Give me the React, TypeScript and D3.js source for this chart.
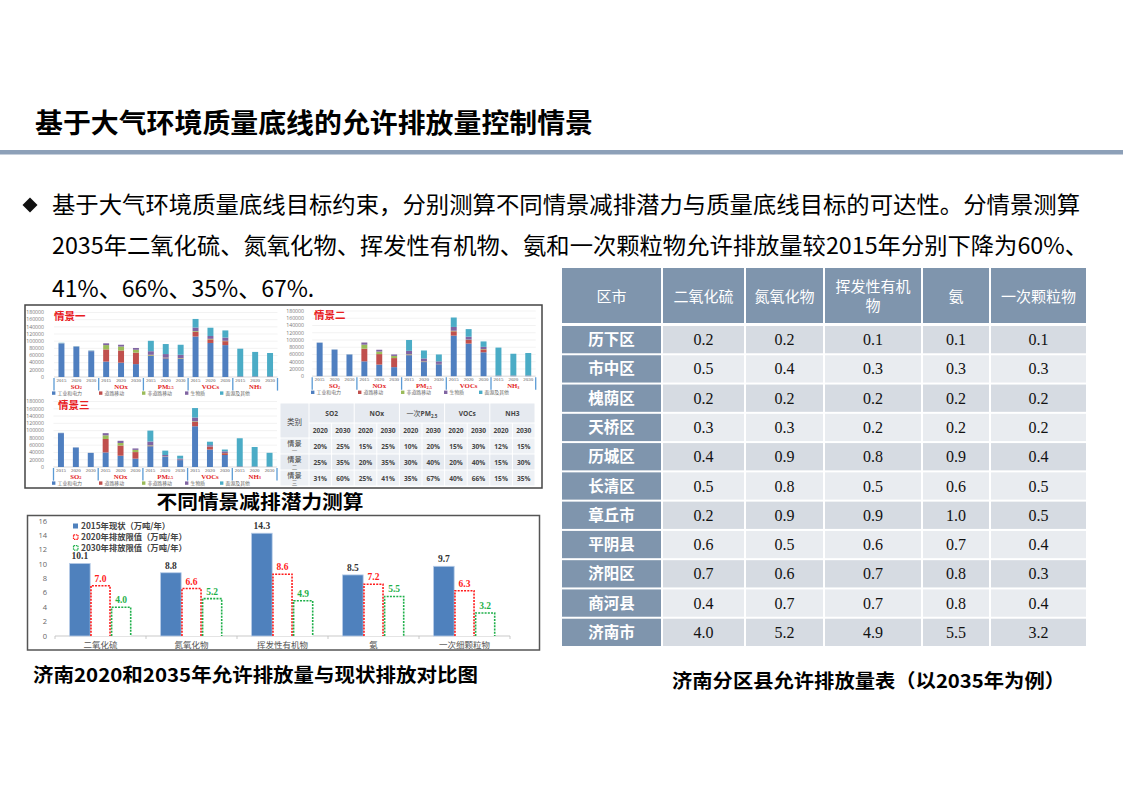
import React from "react"
import * as d3 from "d3"

const W = 1123
const H = 794
const CJK = '"Noto Sans CJK SC", "Noto Sans", sans-serif'
const SERIF = '"Liberation Serif", "Times New Roman", serif'
const SANS = '"Open Sans", "Noto Sans", sans-serif'

// ---------- small stacked charts (three scenarios) ----------
const pollutants = ["SO2", "NOx", "PM2.5", "VOCs", "NH3"]
const pollutantLabels: [string, string][] = [
  ["SO", "2"],
  ["NOx", ""],
  ["PM", "2.5"],
  ["VOCs", ""],
  ["NH", "3"],
]
const years = ["2015", "2020", "2030"]
const sourceKeys = ["industry", "road", "nonroad", "biomass", "dust"]
const sourceNames = ["工业和电力", "道路移动", "非道路移动", "生物质", "面源及其他"]
const sourceColors = ["#4f7fc0", "#c0504d", "#9bbb59", "#8064a2", "#4bacc6"]
const smallTicks = d3.range(0, 180001, 20000)

// bars ordered SO2 2015/2020/2030, NOx ..., PM2.5 ..., VOCs ..., NH3 ...
const s1Industry = [93000, 84000, 72000, 43000, 40000, 36000, 59000, 52000, 51000, 113000, 95000, 89000, 1500, 1500, 1500]
const s1Road = [0, 0, 0, 34000, 34000, 32000, 1000, 1000, 1000, 13000, 10000, 11000, 500, 500, 500]
const s1Nonroad = [0, 0, 0, 12000, 11000, 8000, 2000, 1000, 1000, 2000, 1500, 1000, 0, 0, 0]
const s1Biomass = [1000, 1000, 1000, 5000, 5000, 5000, 10000, 10000, 9000, 10000, 8000, 9000, 0, 0, 0]
const s1Dust = [1500, 1000, 1000, 0, 0, 0, 29000, 28000, 28000, 24000, 23000, 20000, 77000, 68000, 65000]

const s2Industry = [92000, 73000, 59500, 41000, 32000, 25000, 58000, 39000, 33000, 112000, 90000, 66000, 1500, 1500, 1500]
const s2Road = [0, 0, 0, 35000, 29000, 25000, 1000, 1000, 500, 12000, 10000, 8000, 500, 500, 500]
const s2Nonroad = [0, 0, 0, 11000, 7000, 6000, 1500, 1000, 500, 1500, 1000, 1000, 0, 0, 0]
const s2Biomass = [500, 500, 500, 6000, 5000, 4000, 9500, 8000, 7000, 10500, 8000, 6000, 0, 0, 0]
const s2Dust = [500, 500, 600, 0, 0, 0, 30000, 22000, 19000, 26000, 21000, 15000, 77000, 60000, 62000]

const s3Industry = [93000, 53500, 38500, 40000, 31000, 23000, 57000, 28500, 19000, 112000, 48000, 33000, 1500, 1000, 1000]
const s3Road = [0, 0, 0, 37000, 28000, 18000, 1000, 500, 500, 12000, 7000, 5000, 500, 500, 300]
const s3Nonroad = [0, 0, 0, 10000, 7000, 6000, 1500, 500, 500, 1500, 1000, 500, 0, 0, 0]
const s3Biomass = [500, 300, 300, 6000, 6000, 4000, 10500, 3500, 3000, 10500, 4000, 4500, 0, 0, 0]
const s3Dust = [500, 200, 200, 0, 0, 0, 30000, 12000, 8000, 26000, 9500, 5000, 77000, 53500, 37700]

// ---------- reduction ratio mini table ----------
const miniHeads: [string, string, string][] = [
  ["", "SO2", ""],
  ["", "NOx", ""],
  ["一次", "PM", "2.5"],
  ["", "VOCs", ""],
  ["", "NH3", ""],
]
const miniYears = ["2020", "2030"]
const miniRowNames = ["情景一", "情景二", "情景三"]
const miniS1 = [20, 25, 15, 25, 10, 20, 15, 30, 12, 15]
const miniS2 = [25, 35, 20, 35, 30, 40, 20, 40, 15, 30]
const miniS3 = [31, 60, 25, 41, 35, 67, 40, 66, 15, 35]

// ---------- comparison bar chart ----------
const barCats = ["二氧化硫", "氮氧化物", "挥发性有机物", "氨", "一次细颗粒物"]
const v2015 = [10.1, 8.8, 14.3, 8.5, 9.7]
const v2020 = [7.0, 6.6, 8.6, 7.2, 6.3]
const v2030 = [4.0, 5.2, 4.9, 5.5, 3.2]
const barSeriesNames = ["2015年现状（万吨/年）", "2020年排放限值（万吨/年）", "2030年排放限值（万吨/年）"]
const barTicks = d3.range(0, 17, 2)

// ---------- district table ----------
const tableHeads = ["区市", "二氧化硫", "氮氧化物", "挥发性有机物", "氨", "一次颗粒物"]
const districts = ["历下区", "市中区", "槐荫区", "天桥区", "历城区", "长清区", "章丘市", "平阴县", "济阳区", "商河县", "济南市"]
const tSO2 = [0.2, 0.5, 0.2, 0.3, 0.4, 0.5, 0.2, 0.6, 0.7, 0.4, 4.0]
const tNOx = [0.2, 0.4, 0.2, 0.3, 0.9, 0.8, 0.9, 0.5, 0.6, 0.7, 5.2]
const tVOC = [0.1, 0.3, 0.2, 0.2, 0.8, 0.5, 0.9, 0.6, 0.7, 0.7, 4.9]
const tNH3 = [0.1, 0.3, 0.2, 0.2, 0.9, 0.6, 1.0, 0.7, 0.8, 0.8, 5.5]
const tPM = [0.1, 0.3, 0.2, 0.2, 0.4, 0.5, 0.5, 0.4, 0.3, 0.4, 3.2]

interface SmallGeom {
  x0: number
  x1: number
  yBase: number
  yTop: number
  tickX: number
  titleX: number
  titleY: number
  legendX: number
}

const SmallChart = ({ g, title, series }: { g: SmallGeom; title: string; series: number[][] }) => {
  const rows = d3.range(15).map((i) => {
    const r: Record<string, number> = {}
    sourceKeys.forEach((k, j) => (r[k] = series[j][i]))
    return r
  })
  const stacked = d3.stack<Record<string, number>>().keys(sourceKeys)(rows)
  const x = d3.scaleBand<number>().domain(d3.range(15)).range([g.x0, g.x1]).paddingInner(0.6).paddingOuter(0.3)
  const y = d3.scaleLinear().domain([0, 180000]).range([g.yBase, g.yTop])
  const groupW = x.step() * 3
  const legendOffsets = [0, 47, 90, 133, 168]
  const yearY = g.yBase + 5
  const groupY = g.yBase + 11.6
  const legendY = g.yBase + 17.8

  return (
    <g>
      {smallTicks.map((t) => (
        <g key={t}>
          <line x1={g.x0} x2={g.x1} y1={y(t)} y2={y(t)} stroke="#e4e4e4" strokeWidth={0.5} />
          <text x={g.tickX} y={y(t) + 1.8} textAnchor="end" fontSize={5.2} fill="#777" fontFamily={SANS}>
            {t}
          </text>
        </g>
      ))}
      <line x1={g.x0} x2={g.x1} y1={g.yBase} y2={g.yBase} stroke="#ccc" strokeWidth={0.6} />
      {stacked.map((layer, li) => (
        <g key={layer.key} fill={sourceColors[li]}>
          {layer.map((d, i) => (
            <rect key={i} x={x(i)} width={x.bandwidth()} y={y(d[1])} height={Math.max(0, y(d[0]) - y(d[1]))} />
          ))}
        </g>
      ))}
      {d3.range(6).map((k) => (
        <line
          key={k}
          x1={g.x0 + k * groupW}
          x2={g.x0 + k * groupW}
          y1={g.yBase + 1}
          y2={groupY + 2}
          stroke="#5b9bd5"
          strokeWidth={1.3}
        />
      ))}
      {d3.range(15).map((i) => (
        <text
          key={i}
          x={(x(i) as number) + x.bandwidth() / 2}
          y={yearY}
          textAnchor="middle"
          fontSize={4.9}
          fill="#555"
          fontFamily={SERIF}
        >
          {years[i % 3]}
        </text>
      ))}
      {pollutants.map((p, k) => (
        <text
          key={p}
          x={g.x0 + k * groupW + groupW / 2}
          y={groupY}
          textAnchor="middle"
          fontSize={6.8}
          fontWeight="bold"
          fill="#e21b1b"
          fontFamily={SERIF}
        >
          {pollutantLabels[k][0]}
          {pollutantLabels[k][1] && (
            <tspan fontSize={4.3} dy={0.8}>
              {pollutantLabels[k][1]}
            </tspan>
          )}
        </text>
      ))}
      {sourceNames.map((s, k) => (
        <g key={s} transform={`translate(${g.legendX + legendOffsets[k]},${legendY})`}>
          <rect x={0} y={-3.4} width={3.4} height={3.4} fill={sourceColors[k]} />
          <text x={5.5} y={0} fontSize={4.9} fill="#666" fontFamily={CJK}>
            {s}
          </text>
        </g>
      ))}
      <text x={g.titleX} y={g.titleY} fontSize={10.5} fontWeight="bold" fill="#e8201f" fontFamily={CJK}>
        {title}
      </text>
    </g>
  )
}

const MiniTable = () => {
  const left = 280
  const labelRight = 309
  const right = 535
  const col = d3.scaleBand<number>().domain(d3.range(10)).range([labelRight, right])
  const rowY = d3.scaleBand<number>().domain([0, 1, 2]).range([438, 486])
  const h1 = [403, 423]
  const h2 = [423, 438]
  const data = [miniS1, miniS2, miniS3]
  const cell = (x: number, y: number, w: number, h: number, fill: string, key: string) => (
    <rect key={key} x={x + 0.5} y={y + 0.5} width={w - 1} height={h - 1} fill={fill} />
  )
  const txt = { fontSize: 6.6, fontWeight: "bold" as const, fill: "#444", fontFamily: SANS, textAnchor: "middle" as const }
  return (
    <g>
      <rect x={left} y={h1[0]} width={right - left} height={486 - h1[0]} fill="#fff" />
      {cell(left, h1[0], labelRight - left, h2[1] - h1[0], "#e6eaf0", "lab")}
      {miniHeads.map((hd, k) => (
        <g key={k}>
          {cell(col(k * 2) as number, h1[0], col.bandwidth() * 2, h1[1] - h1[0], "#e6eaf0", "h" + k)}
          <text {...txt} x={(col(k * 2) as number) + col.bandwidth()} y={h1[0] + 13}>
            {hd[0] && (
              <tspan fontFamily={CJK} fontWeight="normal" fontSize={7}>
                {hd[0]}
              </tspan>
            )}
            {hd[1]}
            {hd[2] && (
              <tspan fontSize={4.5} dy={1.5}>
                {hd[2]}
              </tspan>
            )}
          </text>
        </g>
      ))}
      {d3.range(10).map((c) => (
        <g key={c}>
          {cell(col(c) as number, h2[0], col.bandwidth(), h2[1] - h2[0], "#eef1f5", "y" + c)}
          <text {...txt} x={(col(c) as number) + col.bandwidth() / 2} y={h2[0] + 10}>
            {miniYears[c % 2]}
          </text>
        </g>
      ))}
      <text x={(left + labelRight) / 2} y={h1[0] + 22} textAnchor="middle" fontSize={7.5} fill="#444" fontFamily={CJK}>
        类别
      </text>
      {data.map((vals, r) => (
        <g key={r}>
          {cell(left, rowY(r) as number, labelRight - left, rowY.bandwidth(), r % 2 ? "#e6eaf0" : "#eef1f5", "rl" + r)}
          <text x={(left + labelRight) / 2} y={(rowY(r) as number) + 8} textAnchor="middle" fontSize={7.2} fill="#444" fontFamily={CJK}>
            {miniRowNames[r].slice(0, 2)}
          </text>
          <text x={(left + labelRight) / 2} y={(rowY(r) as number) + 14.5} textAnchor="middle" fontSize={5.5} fill="#777" fontFamily={CJK}>
            {miniRowNames[r].slice(2)}
          </text>
          {vals.map((v, c) => (
            <g key={c}>
              {cell(col(c) as number, rowY(r) as number, col.bandwidth(), rowY.bandwidth(), r % 2 ? "#e6eaf0" : "#eef1f5", "c" + c)}
              <text {...txt} x={(col(c) as number) + col.bandwidth() / 2} y={(rowY(r) as number) + 10.5}>
                {v}%
              </text>
            </g>
          ))}
        </g>
      ))}
    </g>
  )
}

const CompareChart = () => {
  const x0 = d3.scaleBand<string>().domain(barCats).range([55, 510])
  const x1 = d3.scaleBand<number>().domain([0, 1, 2]).range([14.5, x0.bandwidth() - 14.5])
  const y = d3.scaleLinear().domain([0, 16]).range([636, 521])
  const vals = [v2015, v2020, v2030]
  const strokes = ["#4f81bd", "#ff1a1a", "#1fb04a"]
  const labelColors = ["#333", "#ff1a1a", "#1fb04a"]
  const y0 = y(0)
  return (
    <g>
      <rect x={27.5} y={515.5} width={512} height={134.5} fill="#fff" stroke="#555" strokeWidth={1.5} />
      {barTicks.map((t) => (
        <text key={t} x={47} y={y(t) + 2.5} textAnchor="end" fontSize={7.5} fill="#666" fontFamily={SANS}>
          {t}
        </text>
      ))}
      <line x1={55} x2={510} y1={y0} y2={y0} stroke="#bbb" strokeWidth={0.8} />
      {d3.range(6).map((k) => (
        <line key={k} x1={55 + k * x0.step()} x2={55 + k * x0.step()} y1={y0} y2={y0 + 3} stroke="#bbb" strokeWidth={0.8} />
      ))}
      {barCats.map((c, ci) => {
        const gx = x0(c) as number
        return (
          <g key={c}>
            {vals.map((series, si) => {
              const bx = gx + (x1(si) as number)
              const bw = x1.bandwidth()
              const top = y(series[ci])
              return (
                <g key={si}>
                  {si === 0 ? (
                    <rect x={bx} y={top} width={bw} height={y0 - top} fill="#4f81bd" stroke="#b8cde8" strokeWidth={0.8} />
                  ) : (
                    <path
                      d={`M${bx + 0.8},${y0}V${top}H${bx + bw - 0.8}V${y0}`}
                      fill="#fff"
                      stroke={strokes[si]}
                      strokeWidth={1.6}
                      strokeDasharray="2 1.2"
                    />
                  )}
                  <text
                    x={bx + bw / 2}
                    y={top - 4}
                    textAnchor="middle"
                    fontSize={9.5}
                    fontWeight="bold"
                    fill={labelColors[si]}
                    fontFamily={SERIF}
                  >
                    {series[ci].toFixed(1)}
                  </text>
                </g>
              )
            })}
            <text x={gx + x0.bandwidth() / 2} y={648} textAnchor="middle" fontSize={8.5} fill="#555" fontFamily={CJK}>
              {c}
            </text>
          </g>
        )
      })}
      {barSeriesNames.map((s, k) => (
        <g key={s} transform={`translate(73,${526 + k * 10.8})`}>
          {k === 0 ? (
            <rect x={0} y={-2.5} width={5} height={5} fill="#4f81bd" />
          ) : (
            <rect x={0.5} y={-2} width={4.5} height={4.5} fill="#fff" stroke={strokes[k]} strokeWidth={1.2} strokeDasharray="1.5 0.8" />
          )}
          <text x={8} y={3} fontSize={8.3} fontWeight="bold" fill="#444" fontFamily={CJK}>
            {s}
          </text>
        </g>
      ))}
    </g>
  )
}

const DistrictTable = () => {
  const colEdges = [561, 662, 745, 824, 922, 990, 1087]
  const headTop = 268
  const headBottom = 325
  const rowY = d3.scaleBand<string>().domain(districts).range([headBottom, 647])
  const cols = [tSO2, tNOx, tVOC, tNH3, tPM]
  const headFill = "#7f95ad"
  return (
    <g>
      {tableHeads.map((h, k) => {
        const x = colEdges[k]
        const w = colEdges[k + 1] - x
        const cx = x + w / 2
        const lines = h.length > 5 ? [h.slice(0, 5), h.slice(5)] : [h]
        return (
          <g key={h}>
            <rect x={x + 1} y={headTop} width={w - 2} height={headBottom - headTop - 2} fill={headFill} />
            {lines.map((l, li) => (
              <text
                key={li}
                x={cx}
                y={lines.length > 1 ? headTop + 24 + li * 19 : headTop + 34}
                textAnchor="middle"
                fontSize={15}
                fill="#fff"
                fontFamily={CJK}
              >
                {l}
              </text>
            ))}
          </g>
        )
      })}
      {districts.map((d, r) => {
        const yy = rowY(d) as number
        const hh = rowY.bandwidth()
        const fill = r % 2 === 0 ? "#d6dbe2" : "#e9ecf0"
        return (
          <g key={d}>
            <rect x={colEdges[0] + 1} y={yy + 1} width={colEdges[1] - colEdges[0] - 2} height={hh - 2} fill={headFill} />
            <text
              x={(colEdges[0] + colEdges[1]) / 2}
              y={yy + hh / 2 + 5.5}
              textAnchor="middle"
              fontSize={15.5}
              fontWeight="bold"
              fill="#fff"
              fontFamily={CJK}
            >
              {d}
            </text>
            {cols.map((c, k) => {
              const x = colEdges[k + 1]
              const w = colEdges[k + 2] - x
              return (
                <g key={k}>
                  <rect x={x + 1} y={yy + 1} width={w - 2} height={hh - 2} fill={fill} />
                  <text x={x + w / 2} y={yy + hh / 2 + 5.5} textAnchor="middle" fontSize={16} fill="#111" fontFamily={SERIF}>
                    {c[r].toFixed(1)}
                  </text>
                </g>
              )
            })}
          </g>
        )
      })}
    </g>
  )
}

const g1: SmallGeom = { x0: 54, x1: 277.5, yBase: 377, yTop: 312.5, tickX: 44, titleX: 54, titleY: 320, legendX: 52 }
const g2: SmallGeom = { x0: 312.2, x1: 535.7, yBase: 376.2, yTop: 311, tickX: 304, titleX: 314, titleY: 319, legendX: 311 }
const g3: SmallGeom = { x0: 53.5, x1: 277, yBase: 467, yTop: 401.5, tickX: 44, titleX: 58, titleY: 409, legendX: 52 }

export default function App() {
  return (
    <svg width={W} height={H} style={{ position: "absolute", left: 0, top: 0, background: "#fff" }}>
      <rect width={W} height={H} fill="#fff" />
      <text x={35} y={133} fontSize={27} fontWeight="bold" fill="#000" fontFamily={CJK} textLength={558} lengthAdjust="spacingAndGlyphs">
        基于大气环境质量底线的允许排放量控制情景
      </text>
      <rect x={0} y={150} width={W} height={4.5} fill="#8da0b8" />

      <path d="M30,197.5L37.5,205L30,212.5L22.5,205Z" fill="#111" />
      <text x={52} y={213} fontSize={23} fill="#000" fontFamily={CJK} textLength={1028} lengthAdjust="spacingAndGlyphs">
        基于大气环境质量底线目标约束，分别测算不同情景减排潜力与质量底线目标的可达性。分情景测算
      </text>
      <text x={52} y={254} fontSize={23} fill="#000" fontFamily={CJK} textLength={1036} lengthAdjust="spacingAndGlyphs">
        2035年二氧化硫、氮氧化物、挥发性有机物、氨和一次颗粒物允许排放量较2015年分别下降为60%、
      </text>
      <text x={52} y={297} fontSize={23} fill="#000" fontFamily={CJK}>
        41%、66%、35%、67%.
      </text>

      <rect x={25} y={305} width={517} height={183} fill="#fff" stroke="#444" strokeWidth={1.5} />
      <SmallChart g={g1} title="情景一" series={[s1Industry, s1Road, s1Nonroad, s1Biomass, s1Dust]} />
      <SmallChart g={g2} title="情景二" series={[s2Industry, s2Road, s2Nonroad, s2Biomass, s2Dust]} />
      <SmallChart g={g3} title="情景三" series={[s3Industry, s3Road, s3Nonroad, s3Biomass, s3Dust]} />
      <MiniTable />

      <text x={260} y={509} textAnchor="middle" fontSize={19} fontWeight="bold" fill="#000" fontFamily={CJK} textLength={207} lengthAdjust="spacingAndGlyphs">
        不同情景减排潜力测算
      </text>

      <CompareChart />

      <text x={33} y={682} fontSize={19} fontWeight="bold" fill="#000" fontFamily={CJK} textLength={445} lengthAdjust="spacingAndGlyphs">
        济南2020和2035年允许排放量与现状排放对比图
      </text>

      <DistrictTable />

      <text x={672} y={688} fontSize={19} fontWeight="bold" fill="#000" fontFamily={CJK} textLength={393} lengthAdjust="spacingAndGlyphs">
        济南分区县允许排放量表（以2035年为例）
      </text>
    </svg>
  )
}
